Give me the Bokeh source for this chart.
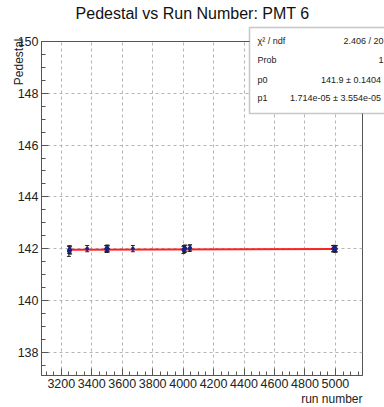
import math
from bokeh.plotting import figure
from bokeh.models import FixedTicker, Label, BoxAnnotation, Range1d
from bokeh.embed import file_html
from bokeh.resources import INLINE

# Pedestal measurements (ADC counts) per run for PMT 6
run_number = [3250, 3252, 3256, 3258, 3370, 3495, 3498, 3502, 3506, 3670,
              4002, 4006, 4010, 4013, 4042, 4046,
              4985, 4988, 4993, 4997, 5000, 5003]
pedestal = [141.90, 141.95, 141.97, 141.93, 142.00, 142.00, 141.98, 142.02, 141.99, 142.00,
            141.95, 142.00, 141.98, 142.02, 142.01, 142.03,
            142.00, 141.99, 142.01, 142.00, 141.98, 142.00]
pedestal_err = [0.20, 0.14, 0.14, 0.14, 0.12, 0.12, 0.13, 0.12, 0.12, 0.12,
                0.14, 0.12, 0.13, 0.12, 0.12, 0.12,
                0.12, 0.12, 0.12, 0.12, 0.12, 0.12]

# Linear fit results
fit_p0, fit_p0_err = 141.9, 0.1404
fit_p1, fit_p1_err = 1.714e-05, 3.554e-05
fit_chi2, fit_ndf, fit_prob = 2.406, 20, 1

x_ticks = list(range(3200, 5001, 200))
x_minor = list(range(3100, 5201, 50))
y_ticks = [138, 140, 142, 144, 146, 148, 150]
y_minor = [137 + 0.5 * i for i in range(28)]

W, H = 384, 407
FL, FT, FR, FB = 41, 41, 362, 375
FONT = "Liberation Sans"

p = figure(width=W, height=H, output_backend="svg", toolbar_location=None,
           x_range=Range1d(3070, 5178), y_range=Range1d(137.1, 150.0),
           min_border_left=FL, min_border_right=W - FR,
           min_border_top=FT, min_border_bottom=H - FB)
p.background_fill_color = "white"
p.border_fill_color = "white"
p.outline_line_color = "#555555"
p.outline_line_width = 1

for ax in (p.xaxis[0], p.yaxis[0]):
    ax.axis_line_color = "#555555"
    ax.major_tick_line_color = "#555555"
    ax.minor_tick_line_color = "#555555"
    ax.major_tick_out = 0
    ax.minor_tick_out = 0
    ax.major_tick_in = 7
    ax.minor_tick_in = 4
    ax.major_label_text_font = FONT
    ax.major_label_text_font_size = "12.5px"
    ax.major_label_text_color = "#222222"
    ax.major_label_standoff = 3

p.xaxis[0].ticker = FixedTicker(ticks=x_ticks, minor_ticks=x_minor)
p.yaxis[0].ticker = FixedTicker(ticks=y_ticks, minor_ticks=y_minor)

for g in (p.xgrid[0], p.ygrid[0]):
    g.grid_line_color = "#b5b5b5"
    g.grid_line_dash = "3 3"
    g.grid_line_width = 1

# Fit line: p0 + p1 * run
x0, x1 = min(run_number), max(run_number)
p.line([x0, x1], [fit_p0 + fit_p1 * x0, fit_p0 + fit_p1 * x1],
       line_color="#ff2020", line_width=2)

# Error bars with caps
lo = [v - e for v, e in zip(pedestal, pedestal_err)]
hi = [v + e for v, e in zip(pedestal, pedestal_err)]
p.segment(run_number, lo, run_number, hi, line_color="#222222", line_width=1)
p.scatter(run_number, lo, marker="dash", size=4, line_color="#222222", line_width=1)
p.scatter(run_number, hi, marker="dash", size=4, line_color="#222222", line_width=1)
p.scatter(run_number, pedestal, marker="circle", size=3,
          fill_color="#1a1f8c", line_color="#1a1f8c")

# Transparent overlay canvas carrying the titles and the fit statistics box
ov = figure(width=W, height=H, output_backend="svg", toolbar_location=None,
            x_range=Range1d(0, W), y_range=Range1d(H, 0),
            min_border=0, x_axis_type=None, y_axis_type=None)
ov.grid.visible = False
ov.outline_line_color = None
ov.background_fill_alpha = 0
ov.border_fill_alpha = 0

for fig in (p, ov):
    fig.styles = {"position": "absolute", "left": "0px", "top": "0px"}


def canvas_label(x, y, text, size="12px", align="left", angle=0.0):
    return Label(x=x, y=y, x_units="canvas", y_units="canvas", text=text,
                 text_font=FONT, text_font_size=size, text_color="#222222",
                 text_align=align, text_baseline="middle", angle=angle,
                 level="overlay")


title = canvas_label(192, 13, "Pedestal vs Run Number: PMT 6", size="16px", align="center")
title.text_color = "#111111"
ov.add_layout(title)
ov.add_layout(canvas_label(18, 38, "Pedestal", align="right", angle=math.pi / 2))
ov.add_layout(canvas_label(362, 398, "run number", align="right"))

ov.add_layout(BoxAnnotation(left=249, right=392, top=27, bottom=113,
                            left_units="canvas", right_units="canvas",
                            top_units="canvas", bottom_units="canvas",
                            fill_color="white", fill_alpha=1.0,
                            line_color="#444444", line_width=1.5, level="annotation"))
rows = [
    ("\u03c7\u00b2 / ndf", f"{fit_chi2} / {fit_ndf}", 40),
    ("Prob", f"{fit_prob}", 59),
    ("p0", f"{fit_p0}  \u00b1 {fit_p0_err}", 79),
    ("p1", f"{fit_p1:.3e}  \u00b1 {fit_p1_err:.3e}", 97),
]
for name, val, cy in rows:
    ov.add_layout(canvas_label(257, cy, name, size="9px"))
    ov.add_layout(canvas_label(383, cy, val, size="9px", align="right"))

open("out.html", "w").write(file_html([p, ov], INLINE))
